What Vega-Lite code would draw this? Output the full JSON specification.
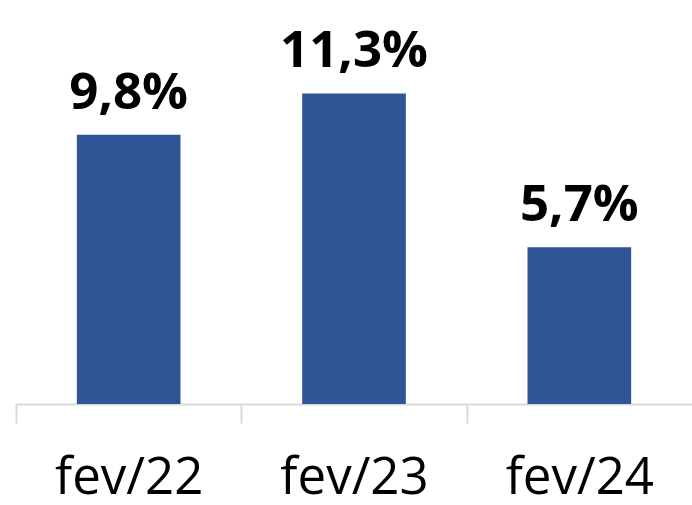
{
  "$schema": "https://vega.github.io/schema/vega-lite/v6.json",
  "autosize": "none",
  "padding": {"left": 16, "top": 0, "right": 0, "bottom": 101},
  "width": 676,
  "height": 404,
  "background": "white",
  "config": {"view": {"stroke": null}},
  "data": {
    "values": [
      {"mes": "fev/22", "valor": 9.8, "rotulo": "9,8%"},
      {"mes": "fev/23", "valor": 11.3, "rotulo": "11,3%"},
      {"mes": "fev/24", "valor": 5.7, "rotulo": "5,7%"}
    ]
  },
  "encoding": {
    "x": {
      "field": "mes",
      "type": "nominal",
      "sort": null,
      "scale": {"paddingInner": 0.54, "paddingOuter": 0.27},
      "axis": {
        "title": null,
        "labelAngle": 0,
        "labelFont": "Open Sans",
        "labelFontSize": 51,
        "labelColor": "#000000",
        "labelPadding": 30,
        "labelOffset": 112.67,
        "tickOffset": -112.67,
        "tickSize": 19,
        "tickColor": "#d9d9d9",
        "tickWidth": 2,
        "domainColor": "#d9d9d9",
        "domainWidth": 2
      }
    },
    "y": {
      "field": "valor",
      "type": "quantitative",
      "scale": {"domain": [0, 14.7], "nice": false},
      "axis": null
    }
  },
  "layer": [
    {"mark": {"type": "bar", "color": "#2F5597"}},
    {
      "mark": {
        "type": "text",
        "font": "Open Sans",
        "fontWeight": "bold",
        "fontSize": 51,
        "baseline": "alphabetic",
        "dy": -26,
        "color": "#000000"
      },
      "encoding": {"text": {"field": "rotulo"}}
    }
  ]
}
